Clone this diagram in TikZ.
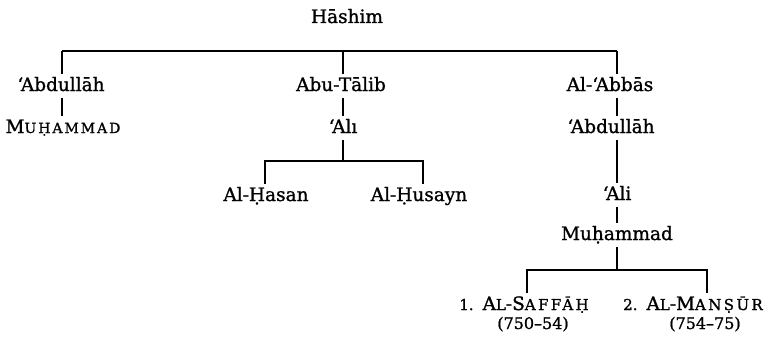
\documentclass[tikz,border=0pt]{standalone}
\usepackage{fontspec}
\setmainfont{DejaVu Serif}[FakeBold=1.2]
\newfontfamily\mainfb{DejaVu Serif}[FakeBold=1.2]
\newfontfamily\scfam{DejaVu Serif}[LetterSpace=14,FakeBold=1.2]
\newfontfamily\scfamw{DejaVu Serif}[LetterSpace=16,FakeBold=1.2]
\newcommand{\scf}[1]{{\scfam\fontsize{14}{14}\selectfont #1}}
\newcommand{\scw}[1]{{\scfamw\fontsize{15}{15}\selectfont #1}}
\newcommand{\numw}[1]{{\mainfb\fontsize{15}{15}\selectfont #1}}
\tikzset{
  lbl/.style={anchor=base, inner sep=3pt, text height=14pt, text depth=4pt,
              font=\mainfb\fontsize{18.5}{20}\selectfont},
  dt/.style={anchor=base, inner sep=2pt, font=\mainfb\fontsize{16}{17}\selectfont},
  link/.style={line width=1.3pt, line cap=butt}
}
\begin{document}
\begin{tikzpicture}[x=1pt,y=-1pt]
\useasboundingbox (0,0) rectangle (767,337);
% nodes
\node[lbl] (hashim) at (347,23) {Hāshim};
\node[lbl] (abdA) at (61,91) {‘Abdullāh};
\node[lbl] (abu) at (341,91) {Abu-Tālib};
\node[lbl] (abbas) at (610,91) {Al-‘Abbās};
\node[lbl] (muhA) at (63,133) {M\scf{UḤAMMAD}};
\node[lbl] (ali1) at (343,133) {‘Alı};
\node[lbl] (abdB) at (611,133) {‘Abdullāh};
\node[lbl] (hasan) at (266,201) {Al-Ḥasan};
\node[lbl] (husayn) at (419,201) {Al-Ḥusayn};
\node[lbl] (ali2) at (617,200) {‘Ali};
\node[lbl] (muhB) at (617,240) {Muḥammad};
\node[lbl] (saffah) at (524,310) {\numw{1.}\hspace{9pt}A\scw{L}-S\scw{AFFĀḤ}};
\node[dt] (d1) at (533,329) {(750–54)};
\node[lbl] (mansur) at (693,310) {\numw{2.}\hspace{9pt}A\scw{L}-M\scw{ANṢŪR}};
\node[dt] (d2) at (705,329) {(754–75)};
% junction coordinates
\coordinate (busA) at (62,51);
\coordinate (busB) at (343,51);
\coordinate (busC) at (617,51);
\coordinate (aliJ) at (343,161);
\coordinate (hL) at (265,161);
\coordinate (hR) at (423,161);
\coordinate (mJ) at (617,270);
\coordinate (sL) at (527,270);
\coordinate (sR) at (707,270);
% connectors
\draw[link] (busA) -- (busC);
\draw[link] (busA) -- (busA |- abdA.north);
\draw[link] (busB) -- (busB |- abu.north);
\draw[link] (busC) -- (busC |- abbas.north);
\draw[link] (abdA.south -| busA) -- (muhA.north -| busA);
\draw[link] (abu.south -| busB) -- (ali1.north -| busB);
\draw[link] (abbas.south -| busC) -- (abdB.north -| busC);
\draw[link] (abdB.south -| busC) -- (ali2.north -| busC);
\draw[link] (ali2.south -| busC) -- (muhB.north -| busC);
\draw[link] (ali1.south -| busB) -- (aliJ);
\draw[link] (hL |- hasan.north) -- (hL) -- (hR) -- (hR |- husayn.north);
\draw[link] (muhB.south -| busC) -- (mJ);
\draw[link] (sL |- saffah.north) -- (sL) -- (sR) -- (sR |- mansur.north);
\end{tikzpicture}
\end{document}
